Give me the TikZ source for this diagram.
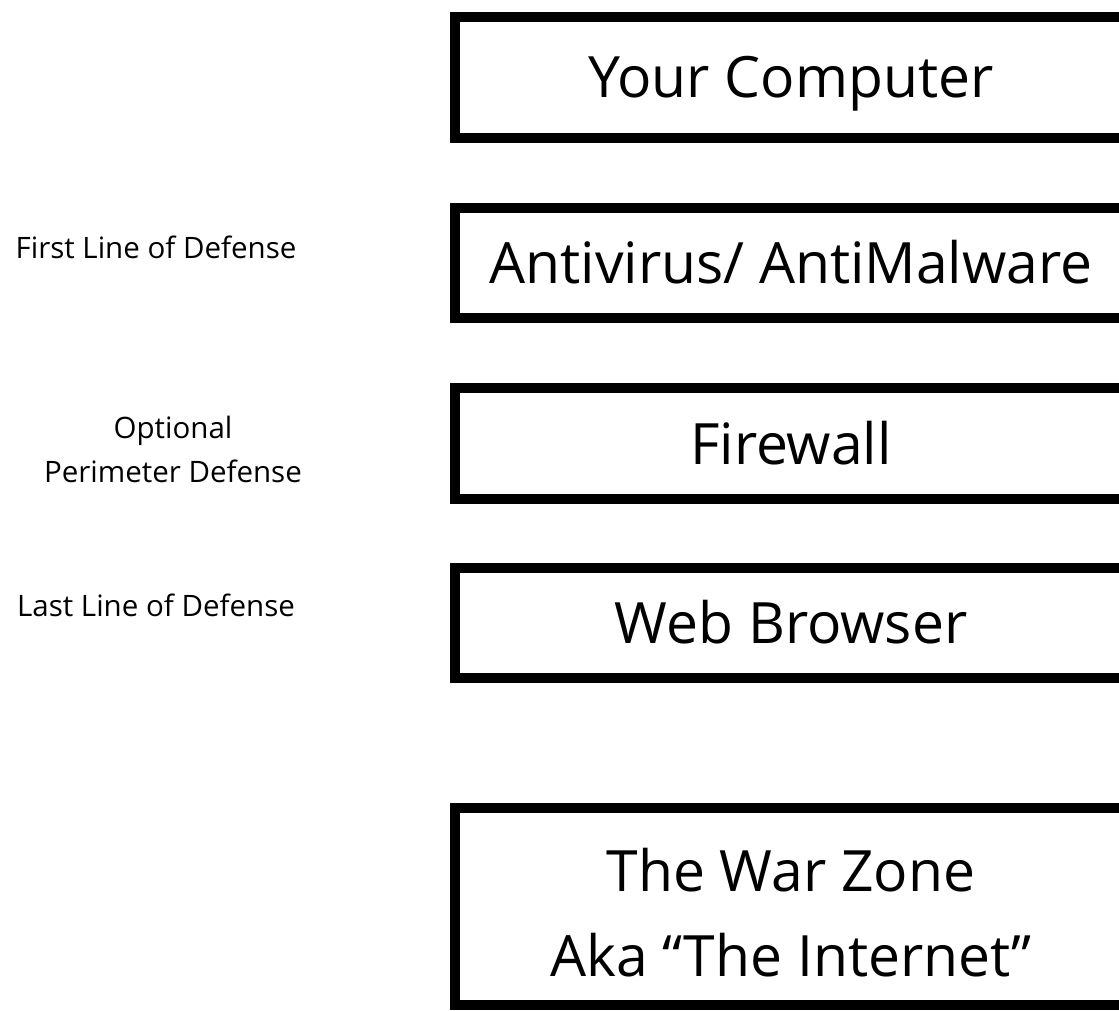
\documentclass[tikz,border=0pt]{standalone}
\usepackage{fontspec}
\setmainfont{Open Sans}
\begin{document}
\begin{tikzpicture}[x=1pt,y=-1pt,
  bigfont/.style={font=\fontsize{57}{85}\selectfont},
  layerbox/.style={draw=black, line width=10.5pt, minimum width=672pt, inner sep=0pt, align=center,
    bigfont, text height=41pt, text depth=0pt},
  bigline/.style={bigfont, inner sep=0pt, anchor=base},
  sidelabel/.style={align=center, inner sep=0pt, font=\fontsize{29.5}{44}\selectfont}]
\useasboundingbox (0,0) rectangle (1119,1011);
\clip (0,0) rectangle (1119,1011);
\node[layerbox, minimum height=121pt] (comp) at (791,77.5) {Your Computer};
\node[layerbox, minimum height=110pt] (av) at (791,263) {Antivirus/ AntiMalware};
\node[layerbox, minimum height=111pt] (fw) at (791,443.5) {Firewall};
\node[layerbox, minimum height=110pt] (wb) at (791,623) {Web Browser};
\node[layerbox, minimum height=197pt] (wz) at (791,906.5) {};
\node[bigline] (wzA) at (791,891) {The War Zone};
\node[bigline] (wzB) at (791,976) {Aka “The Internet”};
\node[sidelabel] (first) at (156,247) {First Line of Defense};
\node[sidelabel] (perim) at (173,449) {Optional\\Perimeter Defense};
\node[sidelabel] (last) at (156,605) {Last Line of Defense};
\end{tikzpicture}
\end{document}
